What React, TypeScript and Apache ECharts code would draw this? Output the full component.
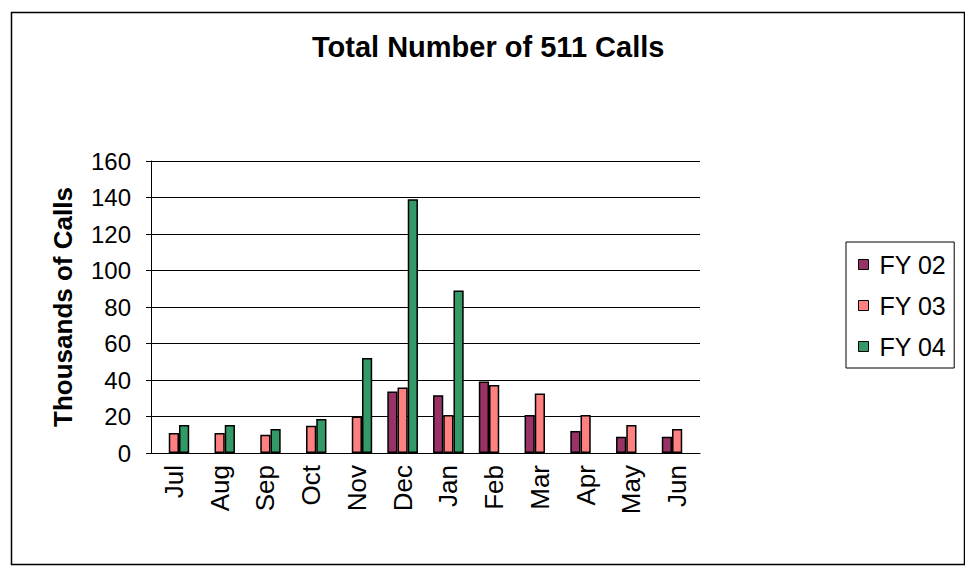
import React, { useEffect, useRef } from "react";
import * as echarts from "echarts";

const months = ["Jul", "Aug", "Sep", "Oct", "Nov", "Dec", "Jan", "Feb", "Mar", "Apr", "May", "Jun"];
const fy02 = [null, null, null, null, null, 33.7, 31.7, 39.2, 20.8, 12, 8.9, 8.9];
const fy03 = [11, 11, 10, 15, 20, 35.9, 20.8, 37.2, 32.6, 20.8, 15.3, 13.1];
const fy04 = [15.3, 15.3, 13.1, 18.6, 52.1, 139, 89.1, null, null, null, null, null];
const seriesNames = ["FY 02", "FY 03", "FY 04"];
const colors = ["#993366", "#FF8080", "#339966"];

const FONT = "'Liberation Sans', Arial, sans-serif";

export default function App() {
  const ref = useRef<HTMLDivElement>(null);
  useEffect(() => {
    if (!ref.current) return;
    const chart = echarts.init(ref.current, null, { renderer: "svg" });
    const data = [fy02, fy03, fy04];
    chart.setOption({
      animation: false,
      backgroundColor: "#ffffff",
      textStyle: { fontFamily: FONT, color: "#000" },
      title: {
        text: "Total Number of 511 Calls",
        left: 307,
        top: 27,
        textStyle: { fontFamily: FONT, fontSize: 29, fontWeight: "bold", color: "#000" },
      },
      graphic: [
        {
          type: "rect",
          left: 9,
          top: 10,
          shape: { width: 953, height: 552 },
          style: { fill: "none", stroke: "#000", lineWidth: 1.5 },
          silent: true,
        },
      ],
      legend: {
        orient: "vertical",
        left: 846,
        top: 242,
        padding: [10, 8, 9, 12],
        itemGap: 16,
        itemWidth: 10,
        itemHeight: 10,
        icon: "rect",
        borderColor: "#000",
        borderWidth: 1,
        itemStyle: { borderColor: "#000", borderWidth: 1 },
        textStyle: { fontFamily: FONT, fontSize: 25, color: "#000", padding: [0, 0, 0, 6] },
        data: seriesNames,
      },
      grid: { left: 151, right: 265, top: 161, bottom: 113 },
      xAxis: {
        type: "category",
        data: months,
        axisLine: { lineStyle: { color: "#000", width: 1 } },
        axisTick: { length: 5, lineStyle: { color: "#000" } },
        axisLabel: { rotate: 90, margin: 12, fontFamily: FONT, fontSize: 26, color: "#000" },
      },
      yAxis: {
        type: "value",
        min: 0,
        max: 160,
        interval: 20,
        name: "Thousands of Calls",
        nameLocation: "middle",
        nameGap: 75,
        nameTextStyle: { fontFamily: FONT, fontSize: 26, fontWeight: "bold", color: "#000" },
        axisLine: { show: true, lineStyle: { color: "#000", width: 1 } },
        axisTick: { show: true, length: 5, lineStyle: { color: "#000" } },
        axisLabel: { margin: 20, fontFamily: FONT, fontSize: 24, color: "#000" },
        splitLine: { show: true, lineStyle: { color: "#000", width: 1 } },
      },
      series: data.map((d, i) => ({
        name: seriesNames[i],
        type: "bar",
        data: d,
        barGap: "0%",
        barCategoryGap: "33%",
        itemStyle: { color: colors[i], borderColor: "#000", borderWidth: 1.5 },
      })),
    });
    return () => chart.dispose();
  }, []);
  return <div ref={ref} style={{ position: "fixed", left: 0, top: 0, width: 965, height: 566 }} />;
}
